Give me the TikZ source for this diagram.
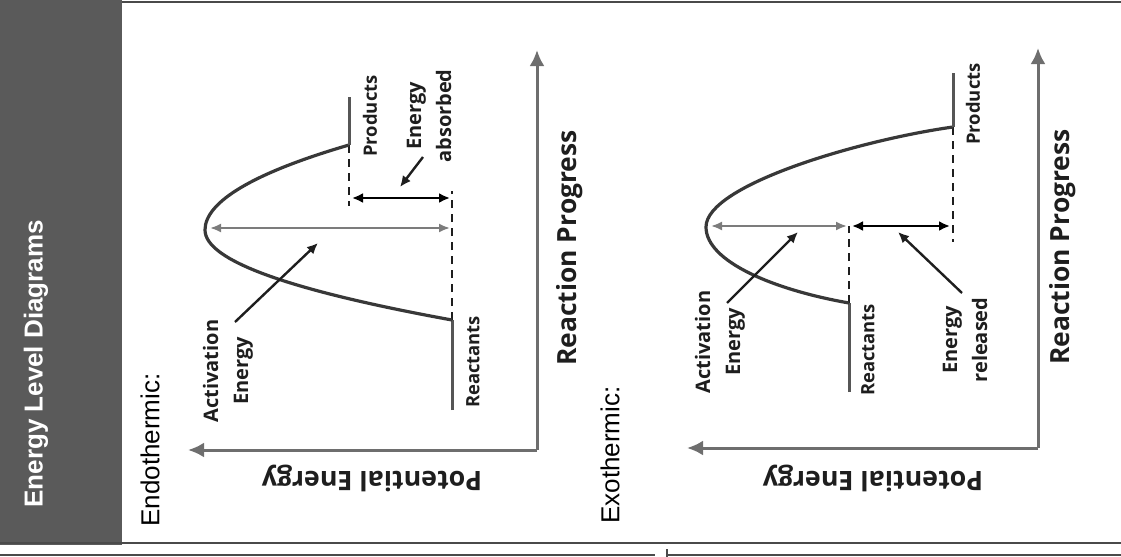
\documentclass[tikz,border=0pt]{standalone}
\usepackage{fontspec}
\setmainfont{Liberation Sans}
\newfontfamily\labelfont{Open Sans}
\usetikzlibrary{arrows.meta}
\definecolor{bandgray}{HTML}{5A5A5A}
\definecolor{framegray}{HTML}{4A4A4A}
\definecolor{axisgray}{HTML}{6E6E6E}
\definecolor{curvegray}{HTML}{383838}
\definecolor{actgray}{HTML}{7C7C7C}
\definecolor{inkgray}{HTML}{1E1E1E}

\tikzset{
  axis/.style={draw=axisgray, line width=1.5pt, -{Latex[length=8pt,width=7.5pt]}},
  curve/.style={draw=curvegray, line width=1.6pt, line join=round},
  level/.style={draw=curvegray!85, line width=1.5pt, line join=miter},
  guide/.style={draw=inkgray, line width=1pt, dash pattern=on 4pt off 3pt},
  actarrow/.style={draw=actgray, line width=1pt,
    {Latex[length=5.5pt,width=4.5pt]}-{Latex[length=5.5pt,width=4.5pt]}},
  deltaarrow/.style={draw=black, line width=1.2pt,
    {Latex[length=5.5pt,width=5pt]}-{Latex[length=5.5pt,width=5pt]}},
  pointer/.style={draw=inkgray, line width=1.2pt, -{Latex[length=5.5pt,width=5pt]}},
  lbl/.style={font=\labelfont\bfseries\fontsize{10}{15}\selectfont, text=inkgray,
    align=center, rotate=90, inner sep=0pt},
  smalllbl/.style={lbl, font=\labelfont\bfseries\fontsize{9.2}{12}\selectfont},
  axislbl/.style={font=\labelfont\bfseries\fontsize{13.2}{15}\selectfont, text=inkgray,
    rotate=90, inner sep=0pt},
  energylbl/.style={font=\labelfont\bfseries\fontsize{13.4}{15}\selectfont, text=inkgray,
    rotate=180, inner sep=0pt},
  heading/.style={font=\fontsize{13}{15}\selectfont, rotate=90, anchor=west, inner sep=0pt}
}

\begin{document}
\begin{tikzpicture}[x=0.5pt,y=-0.5pt]

  \useasboundingbox (0,0) rectangle (1121,557);

  % page frame and side band
  \fill[bandgray] (0,0) rectangle (122,545);
  \draw[framegray, line width=0.8pt] (122,2) -- (1121,2);
  \draw[framegray, line width=1pt] (0,543) -- (1121,543);
  \draw[framegray, line width=1pt] (0,555) -- (655,555);
  \draw[framegray, line width=1pt] (667,555) -- (1121,555);
  \draw[framegray, line width=1pt] (667,549) -- (667,557);

  \node[heading, text=white, font=\bfseries\fontsize{13}{15}\selectfont] (title) at (36,508) {Energy Level Diagrams};
  \node[heading] (endotitle) at (150,527) {Endothermic:};
  \node[heading] (exotitle) at (610,524) {Exothermic:};

  % ---- endothermic ----
  \coordinate (EO)  at (537,450);
  \coordinate (EY)  at (537,50);
  \coordinate (EX)  at (188,450);
  \coordinate (ER0) at (452,410);
  \coordinate (ER1) at (452,320);
  \coordinate (EV)  at (205,230);
  \coordinate (EP1) at (349,145);
  \coordinate (EP0) at (349,97);
  \coordinate (EA1) at (210,228);
  \coordinate (EA2) at (450,228);
  \coordinate (ED1) at (352,198);
  \coordinate (ED2) at (450,198);
  \coordinate (EDtop) at (452,191);
  \coordinate (EPlow) at (349,206);
  \coordinate (EQ1) at (423,157);
  \coordinate (EQ2) at (400,187);
  \coordinate (EZ1) at (235,322);
  \coordinate (EZ2) at (318,243);

  \draw[axis] (EO) -- (EY);
  \draw[axis] (EO) -- (EX);
  \node[axislbl] (endoprog) at (570,248) {Reaction Progress};
  \node[energylbl] (endoenergy) at (372,478) {Potential Energy};

  \draw[guide] (ER1) -- (EDtop);
  \draw[guide] (EP1) -- (EPlow);
  \draw[level] (ER0) -- (ER1);
  \draw[curve] (ER1) .. controls (287,290) and (205,260) .. (EV)
               .. controls (205,202) and (253,173) .. (EP1);
  \draw[level] (EP1) -- (EP0);

  \draw[actarrow] (EA1) -- (EA2);
  \draw[deltaarrow] (ED1) -- (ED2);
  \draw[pointer] (EQ1) -- (EQ2);
  \draw[pointer] (EZ1) -- (EZ2);

  \node[lbl] (endoact) at (228,371) {Activation\\Energy};
  \node[lbl] (endoabs) at (429,116) {Energy\\absorbed};
  \node[smalllbl] (endoreact) at (473,362) {Reactants};
  \node[smalllbl] (endoprod) at (370,116) {Products};

  % ---- exothermic ----
  \coordinate (XO)  at (1038,448);
  \coordinate (XY)  at (1038,48);
  \coordinate (XX)  at (687,448);
  \coordinate (XR0) at (849,392);
  \coordinate (XR1) at (849,303);
  \coordinate (XV)  at (706,227);
  \coordinate (XP1) at (953,127);
  \coordinate (XP0) at (953,73);
  \coordinate (XA1) at (711,226);
  \coordinate (XA2) at (847,226);
  \coordinate (XD1) at (852,226);
  \coordinate (XD2) at (950,226);
  \coordinate (XRtop) at (849,226);
  \coordinate (XPlow) at (953,242);
  \coordinate (XQ1) at (962,293);
  \coordinate (XQ2) at (898,232);
  \coordinate (XZ1) at (727,303);
  \coordinate (XZ2) at (798,232);

  \draw[axis] (XO) -- (XY);
  \draw[axis] (XO) -- (XX);
  \node[axislbl] (exoprog) at (1063,247) {Reaction Progress};
  \node[energylbl] (exoenergy) at (873,478) {Potential Energy};

  \draw[guide] (XR1) -- (XRtop);
  \draw[guide] (XP1) -- (XPlow);
  \draw[level] (XR0) -- (XR1);
  \draw[curve] (XR1) .. controls (775,290) and (706,262) .. (XV)
               .. controls (706,185) and (860,140) .. (XP1);
  \draw[level] (XP1) -- (XP0);

  \draw[actarrow] (XA1) -- (XA2);
  \draw[deltaarrow] (XD1) -- (XD2);
  \draw[pointer] (XQ1) -- (XQ2);
  \draw[pointer] (XZ1) -- (XZ2);

  \node[lbl] (exoact) at (720,342) {Activation\\Energy};
  \node[lbl] (exorel) at (965,340) {Energy\\released};
  \node[smalllbl] (exoreact) at (868,350) {Reactants};
  \node[smalllbl] (exoprod) at (973,104) {Products};

\end{tikzpicture}
\end{document}
